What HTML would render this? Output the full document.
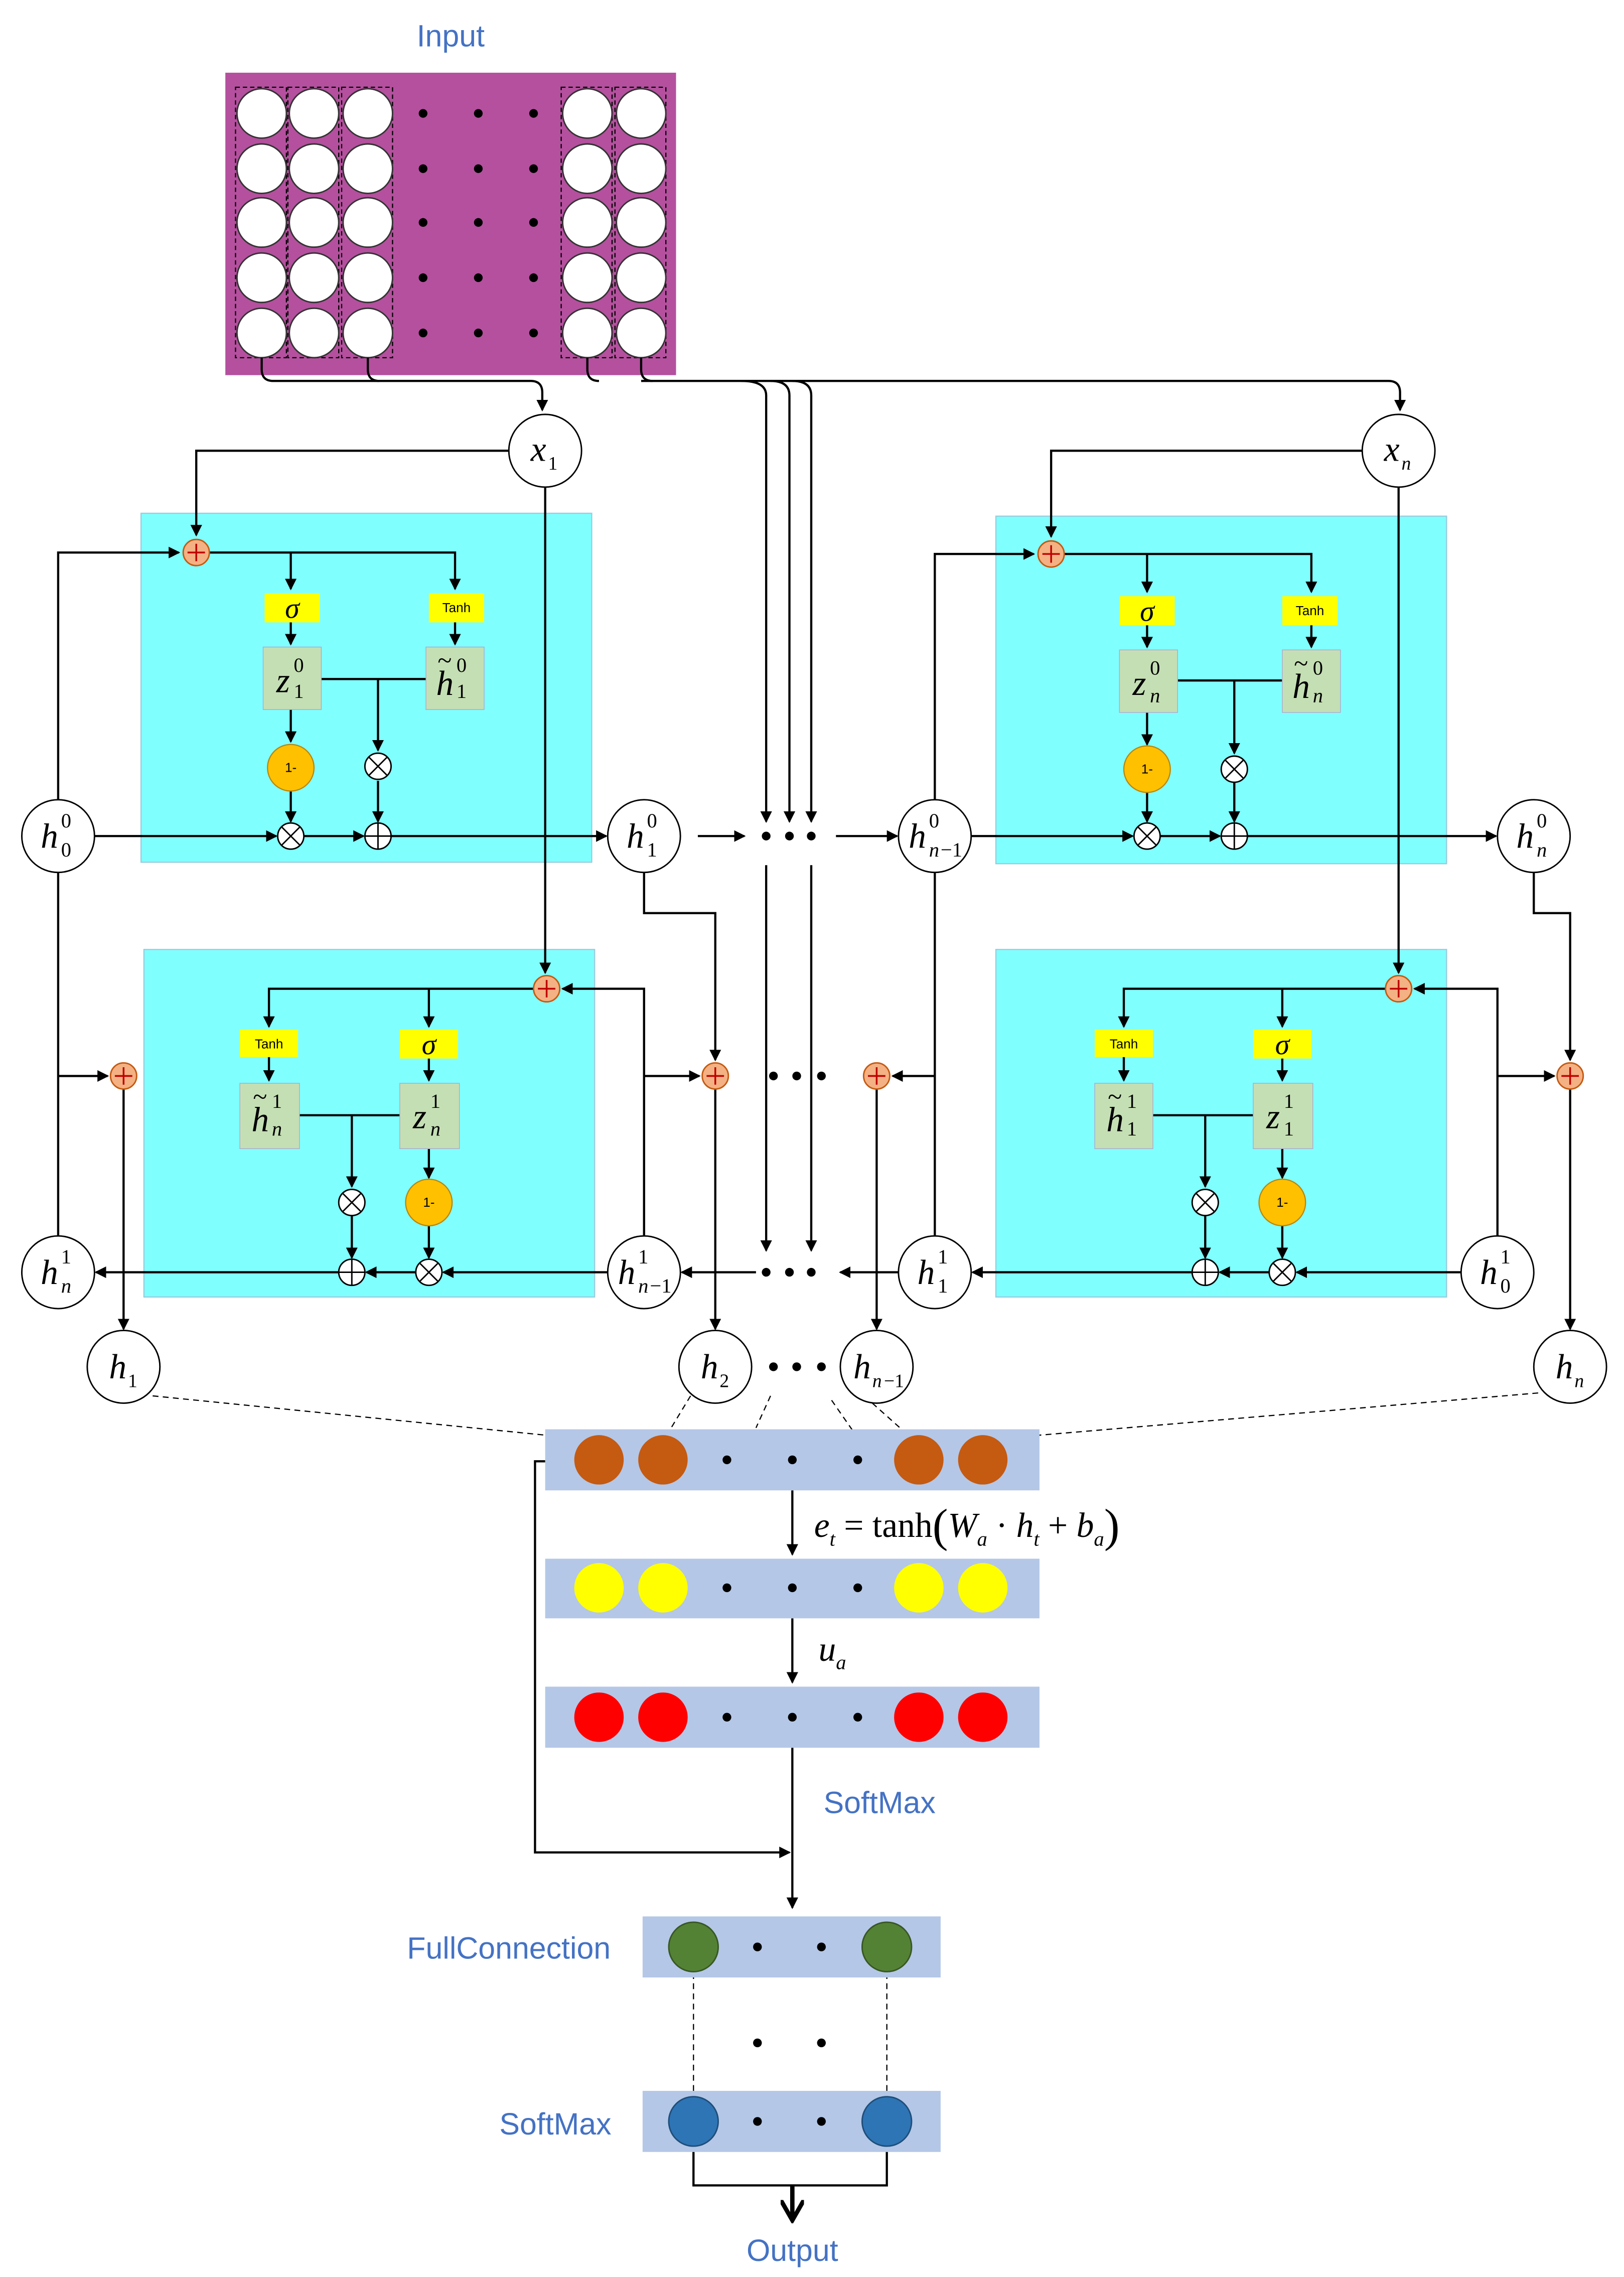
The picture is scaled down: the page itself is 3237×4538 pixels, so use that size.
<!DOCTYPE html>
<html><head><meta charset="utf-8"><style>html,body{margin:0;padding:0;background:#fff}svg{display:block}</style></head>
<body>
<svg width="3237" height="4538" viewBox="0 0 1117 1566" preserveAspectRatio="xMinYMin meet" xmlns="http://www.w3.org/2000/svg">
<defs>
<marker id="a" markerWidth="8" markerHeight="8" refX="7" refY="4" orient="auto" markerUnits="userSpaceOnUse"><path d="M0,0 L8,4 L0,8 z" fill="#000"/></marker>
<marker id="b" markerWidth="16" markerHeight="16" refX="14" refY="8" orient="auto" markerUnits="userSpaceOnUse"><path d="M0,0 L14,8 L0,16" fill="none" stroke="#000" stroke-width="3"/></marker>
</defs>
<rect width="1117" height="1566" fill="#fff"/>
<g font-family="Liberation Sans, sans-serif" fill="#4472C4" font-size="21" text-anchor="middle">
<text x="310" y="32">Input</text>
<text x="605" y="1247">SoftMax</text>
<text x="350" y="1347">FullConnection</text>
<text x="382" y="1468">SoftMax</text>
<text x="545" y="1555">Output</text>
</g>
<rect x="155" y="50" width="310" height="208" fill="#B4509E"/>
<g fill="none" stroke="#000" stroke-width="0.8" stroke-dasharray="3,2">
<rect x="162" y="60" width="35" height="186"/><rect x="198" y="60" width="35" height="186"/><rect x="235" y="60" width="35" height="186"/><rect x="386" y="60" width="35" height="186"/><rect x="423" y="60" width="35" height="186"/>
</g>
<g fill="#fff" stroke="#333" stroke-width="1">
<circle cx="180" cy="78" r="17"/><circle cx="216" cy="78" r="17"/><circle cx="253" cy="78" r="17"/><circle cx="404" cy="78" r="17"/><circle cx="441" cy="78" r="17"/>
<circle cx="180" cy="116" r="17"/><circle cx="216" cy="116" r="17"/><circle cx="253" cy="116" r="17"/><circle cx="404" cy="116" r="17"/><circle cx="441" cy="116" r="17"/>
<circle cx="180" cy="153" r="17"/><circle cx="216" cy="153" r="17"/><circle cx="253" cy="153" r="17"/><circle cx="404" cy="153" r="17"/><circle cx="441" cy="153" r="17"/>
<circle cx="180" cy="191" r="17"/><circle cx="216" cy="191" r="17"/><circle cx="253" cy="191" r="17"/><circle cx="404" cy="191" r="17"/><circle cx="441" cy="191" r="17"/>
<circle cx="180" cy="229" r="17"/><circle cx="216" cy="229" r="17"/><circle cx="253" cy="229" r="17"/><circle cx="404" cy="229" r="17"/><circle cx="441" cy="229" r="17"/>
</g>
<g fill="#000">
<circle cx="291" cy="78" r="3"/><circle cx="329" cy="78" r="3"/><circle cx="367" cy="78" r="3"/>
<circle cx="291" cy="116" r="3"/><circle cx="329" cy="116" r="3"/><circle cx="367" cy="116" r="3"/>
<circle cx="291" cy="153" r="3"/><circle cx="329" cy="153" r="3"/><circle cx="367" cy="153" r="3"/>
<circle cx="291" cy="191" r="3"/><circle cx="329" cy="191" r="3"/><circle cx="367" cy="191" r="3"/>
<circle cx="291" cy="229" r="3"/><circle cx="329" cy="229" r="3"/><circle cx="367" cy="229" r="3"/>
</g>
<g fill="#80FFFF" stroke="#9cd" stroke-width="0.8">
<rect x="97" y="353" width="310" height="240"/><rect x="99" y="653" width="310" height="239"/>
<rect x="685" y="355" width="310" height="239"/><rect x="685" y="653" width="310" height="239"/>
</g>
<g fill="none" stroke="#000" stroke-width="1.5">
<path d="M180,246 v8 q0,8 8,8 H365 q8,0 8,8 v12" marker-end="url(#a)"/>
<path d="M253,246 v8 q0,8 8,8"/><path d="M404,246 v8 q0,8 8,8"/><path d="M441,246 v8 q0,8 8,8"/>
<path d="M441,262 H955 q8,0 8,8 v12" marker-end="url(#a)"/>
<path d="M510,262 q17,0 17,10 V565" marker-end="url(#a)"/>
<path d="M530,262 q13,0 13,10 V565" marker-end="url(#a)"/>
<path d="M545,262 q13,0 13,10 V565" marker-end="url(#a)"/>
<path d="M527,595 V860" marker-end="url(#a)"/><path d="M558,595 V860" marker-end="url(#a)"/>
<path d="M350,310 H135 V368" marker-end="url(#a)"/>
<path d="M40,550 V380 H123" marker-end="url(#a)"/>
<path d="M144,380 H313 V405" marker-end="url(#a)"/>
<path d="M200,380 V405" marker-end="url(#a)"/>
<path d="M200,428 V443" marker-end="url(#a)"/><path d="M313,428 V443" marker-end="url(#a)"/>
<path d="M221,467 H293"/><path d="M260,467 V516" marker-end="url(#a)"/>
<path d="M200,488 V510" marker-end="url(#a)"/>
<path d="M200,544 V565" marker-end="url(#a)"/><path d="M260,537 V565" marker-end="url(#a)"/>
<path d="M65,575 H190" marker-end="url(#a)"/><path d="M209,575 H250" marker-end="url(#a)"/><path d="M269,575 H417" marker-end="url(#a)"/>
<path d="M375,335 V669" marker-end="url(#a)"/>
<path d="M367,680 H185 V706" marker-end="url(#a)"/><path d="M295,680 V706" marker-end="url(#a)"/>
<path d="M185,727 V743" marker-end="url(#a)"/><path d="M295,728 V743" marker-end="url(#a)"/>
<path d="M206,767 H275"/><path d="M242,767 V816" marker-end="url(#a)"/>
<path d="M295,790 V810" marker-end="url(#a)"/>
<path d="M242,836 V865" marker-end="url(#a)"/><path d="M295,843 V865" marker-end="url(#a)"/>
<path d="M418,875 H305" marker-end="url(#a)"/><path d="M286,875 H252" marker-end="url(#a)"/><path d="M233,875 H66" marker-end="url(#a)"/>
<path d="M443,850 V680 H387" marker-end="url(#a)"/>
<path d="M40,600 V850"/><path d="M40,740 H74" marker-end="url(#a)"/>
<path d="M85,749 V914" marker-end="url(#a)"/>
<path d="M443,600 V628 H492 V729" marker-end="url(#a)"/>
<path d="M443,740 H481" marker-end="url(#a)"/>
<path d="M492,749 V914" marker-end="url(#a)"/>
<path d="M480,575 H512" marker-end="url(#a)"/><path d="M575,575 H617" marker-end="url(#a)"/>
<path d="M520,875 H469" marker-end="url(#a)"/><path d="M618,875 H578" marker-end="url(#a)"/>
<path d="M643,600 V850"/><path d="M643,740 H614" marker-end="url(#a)"/>
<path d="M603,749 V914" marker-end="url(#a)"/>
<path d="M937,310 H723 V369" marker-end="url(#a)"/>
<path d="M643,550 V381 H711" marker-end="url(#a)"/>
<path d="M732,381 H902 V407" marker-end="url(#a)"/>
<path d="M789,381 V407" marker-end="url(#a)"/>
<path d="M789,430 V445" marker-end="url(#a)"/><path d="M902,430 V445" marker-end="url(#a)"/>
<path d="M810,468 H882"/><path d="M849,468 V518" marker-end="url(#a)"/>
<path d="M789,490 V512" marker-end="url(#a)"/>
<path d="M789,545 V565" marker-end="url(#a)"/><path d="M849,538 V565" marker-end="url(#a)"/>
<path d="M668,575 H779" marker-end="url(#a)"/><path d="M798,575 H839" marker-end="url(#a)"/><path d="M858,575 H1029" marker-end="url(#a)"/>
<path d="M962,335 V669" marker-end="url(#a)"/>
<path d="M953,680 H773 V706" marker-end="url(#a)"/><path d="M882,680 V706" marker-end="url(#a)"/>
<path d="M773,727 V743" marker-end="url(#a)"/><path d="M882,728 V743" marker-end="url(#a)"/>
<path d="M793,767 H862"/><path d="M829,767 V816" marker-end="url(#a)"/>
<path d="M882,790 V810" marker-end="url(#a)"/>
<path d="M829,836 V865" marker-end="url(#a)"/><path d="M882,843 V865" marker-end="url(#a)"/>
<path d="M1005,875 H892" marker-end="url(#a)"/><path d="M873,875 H839" marker-end="url(#a)"/><path d="M820,875 H669" marker-end="url(#a)"/>
<path d="M1030,850 V680 H973" marker-end="url(#a)"/>
<path d="M1030,740 H1069" marker-end="url(#a)"/>
<path d="M1055,600 V628 H1080 V729" marker-end="url(#a)"/>
<path d="M1080,749 V914" marker-end="url(#a)"/>
<path d="M545,1025 V1069" marker-end="url(#a)"/>
<path d="M545,1113 V1157" marker-end="url(#a)"/>
<path d="M545,1202 V1312" marker-end="url(#a)"/>
<path d="M375,1005 H368 V1274 H543" marker-end="url(#a)"/>
<path d="M477,1480 V1503 H610 V1480"/>
</g>
<path d="M545,1503 V1527" stroke="#000" stroke-width="3" fill="none" marker-end="url(#b)"/>
<g stroke="#000" stroke-width="0.8" stroke-dasharray="4,3" fill="none">
<path d="M105,960 L405,990"/><path d="M475,960 L458,988"/><path d="M530,960 L520,982"/><path d="M572,963 L588,986"/>
<path d="M600,965 L628,990"/><path d="M1058,958 L680,990"/>
<path d="M477,1357 V1440"/><path d="M610,1357 V1440"/>
</g>
<g fill="#F4B183" stroke="#C55A11" stroke-width="1">
<circle cx="135" cy="380" r="9"/><circle cx="376" cy="680" r="9"/><circle cx="85" cy="740" r="9"/><circle cx="492" cy="740" r="9"/>
<circle cx="603" cy="740" r="9"/><circle cx="723" cy="381" r="9"/><circle cx="962" cy="680" r="9"/><circle cx="1080" cy="740" r="9"/>
</g>
<g stroke="#C00000" stroke-width="1.2">
<path d="M129,380h12M135,374v12"/><path d="M370,680h12M376,674v12"/><path d="M79,740h12M85,734v12"/><path d="M486,740h12M492,734v12"/>
<path d="M597,740h12M603,734v12"/><path d="M717,381h12M723,375v12"/><path d="M956,680h12M962,674v12"/><path d="M1074,740h12M1080,734v12"/>
</g>
<g fill="#FFFF00">
<rect x="182" y="408" width="38" height="20"/><rect x="295" y="408" width="38" height="20"/>
<rect x="770" y="410" width="38" height="20"/><rect x="882" y="410" width="38" height="20"/>
<rect x="165" y="708" width="40" height="19"/><rect x="275" y="708" width="40" height="20"/>
<rect x="753" y="708" width="40" height="19"/><rect x="862" y="708" width="40" height="20"/>
</g>
<g font-family="Liberation Serif, serif" font-style="italic" font-size="20" text-anchor="middle" fill="#000">
<text x="201" y="425">σ</text><text x="789" y="427">σ</text><text x="295" y="725">σ</text><text x="882" y="725">σ</text>
</g>
<g font-family="Liberation Sans, sans-serif" font-size="9" text-anchor="middle" fill="#000">
<text x="314" y="421">Tanh</text><text x="901" y="423">Tanh</text><text x="185" y="721">Tanh</text><text x="773" y="721">Tanh</text>
</g>
<g fill="#C5DFB4" stroke="#aac" stroke-width="0.5">
<rect x="181" y="445" width="40" height="43"/><rect x="293" y="445" width="40" height="43"/>
<rect x="770" y="447" width="40" height="43"/><rect x="882" y="447" width="40" height="43"/>
<rect x="165" y="745" width="41" height="45"/><rect x="275" y="745" width="41" height="45"/>
<rect x="753" y="745" width="40" height="45"/><rect x="862" y="745" width="41" height="45"/>
</g>
<g fill="#FFC000" stroke="#B8860B" stroke-width="0.8">
<circle cx="200" cy="528" r="16"/><circle cx="789" cy="529" r="16"/><circle cx="295" cy="827" r="16"/><circle cx="882" cy="827" r="16"/>
</g>
<g font-family="Liberation Sans, sans-serif" font-size="9" text-anchor="middle">
<text x="200" y="531">1-</text><text x="789" y="532">1-</text><text x="295" y="830">1-</text><text x="882" y="830">1-</text>
</g>
<g fill="#fff" stroke="#000" stroke-width="1">
<circle cx="260" cy="527" r="9"/><circle cx="200" cy="575" r="9"/><circle cx="260" cy="575" r="9"/>
<circle cx="849" cy="529" r="9"/><circle cx="789" cy="575" r="9"/><circle cx="849" cy="575" r="9"/>
<circle cx="242" cy="827" r="9"/><circle cx="242" cy="875" r="9"/><circle cx="295" cy="875" r="9"/>
<circle cx="829" cy="827" r="9"/><circle cx="829" cy="875" r="9"/><circle cx="882" cy="875" r="9"/>
</g>
<g stroke="#000" stroke-width="1">
<path d="M254,521l12,12M266,521l-12,12"/><path d="M194,569l12,12M206,569l-12,12"/><path d="M251,575h18M260,566v18"/>
<path d="M843,523l12,12M855,523l-12,12"/><path d="M783,569l12,12M795,569l-12,12"/><path d="M840,575h18M849,566v18"/>
<path d="M236,821l12,12M248,821l-12,12"/><path d="M233,875h18M242,866v18"/><path d="M289,869l12,12M301,869l-12,12"/>
<path d="M823,821l12,12M835,821l-12,12"/><path d="M820,875h18M829,866v18"/><path d="M876,869l12,12M888,869l-12,12"/>
</g>
<g font-family="Liberation Serif, serif" font-size="24" fill="#000">
<text x="190" y="476" font-style="italic">z</text><text x="202" y="462" font-size="14">0</text><text x="202" y="480" font-size="14">1</text>
<text x="300" y="478" font-style="italic">h</text><text x="301" y="460" font-size="18">~</text><text x="314" y="462" font-size="14">0</text><text x="314" y="480" font-size="14">1</text>
<text x="779" y="478" font-style="italic">z</text><text x="791" y="464" font-size="14">0</text><text x="791" y="483" font-size="14" font-style="italic">n</text>
<text x="889" y="480" font-style="italic">h</text><text x="890" y="462" font-size="18">~</text><text x="903" y="464" font-size="14">0</text><text x="903" y="483" font-size="14" font-style="italic">n</text>
<text x="173" y="778" font-style="italic">h</text><text x="174" y="760" font-size="18">~</text><text x="187" y="762" font-size="14">1</text><text x="187" y="781" font-size="14" font-style="italic">n</text>
<text x="284" y="776" font-style="italic">z</text><text x="296" y="762" font-size="14">1</text><text x="296" y="781" font-size="14" font-style="italic">n</text>
<text x="761" y="778" font-style="italic">h</text><text x="762" y="760" font-size="18">~</text><text x="775" y="762" font-size="14">1</text><text x="775" y="781" font-size="14">1</text>
<text x="871" y="776" font-style="italic">z</text><text x="883" y="762" font-size="14">1</text><text x="883" y="781" font-size="14">1</text>
</g>
<g fill="#fff" stroke="#000" stroke-width="1">
<circle cx="375" cy="310" r="25"/><circle cx="962" cy="310" r="25"/>
<circle cx="40" cy="575" r="25"/><circle cx="443" cy="575" r="25"/><circle cx="643" cy="575" r="25"/><circle cx="1055" cy="575" r="25"/>
<circle cx="40" cy="875" r="25"/><circle cx="443" cy="875" r="25"/><circle cx="643" cy="875" r="25"/><circle cx="1030" cy="875" r="25"/>
<circle cx="85" cy="940" r="25"/><circle cx="492" cy="940" r="25"/><circle cx="603" cy="940" r="25"/><circle cx="1080" cy="940" r="25"/>
</g>
<g font-family="Liberation Serif, serif" font-size="24" fill="#000">
<text x="365" y="317" font-style="italic">x</text><text x="377" y="323" font-size="13">1</text>
<text x="952" y="317" font-style="italic">x</text><text x="964" y="323" font-size="13" font-style="italic">n</text>
<text x="28" y="583" font-style="italic">h</text><text x="42" y="569" font-size="14">0</text><text x="42" y="589" font-size="14">0</text>
<text x="431" y="583" font-style="italic">h</text><text x="445" y="569" font-size="14">0</text><text x="445" y="589" font-size="14">1</text>
<text x="625" y="583" font-style="italic">h</text><text x="639" y="569" font-size="14">0</text><text x="639" y="589" font-size="14" font-style="italic">n</text><text x="647" y="589" font-size="14">−1</text>
<text x="1043" y="583" font-style="italic">h</text><text x="1057" y="569" font-size="14">0</text><text x="1057" y="589" font-size="14" font-style="italic">n</text>
<text x="28" y="883" font-style="italic">h</text><text x="42" y="869" font-size="14">1</text><text x="42" y="889" font-size="14" font-style="italic">n</text>
<text x="425" y="883" font-style="italic">h</text><text x="439" y="869" font-size="14">1</text><text x="439" y="889" font-size="14" font-style="italic">n</text><text x="447" y="889" font-size="14">−1</text>
<text x="631" y="883" font-style="italic">h</text><text x="645" y="869" font-size="14">1</text><text x="645" y="889" font-size="14">1</text>
<text x="1018" y="883" font-style="italic">h</text><text x="1032" y="869" font-size="14">1</text><text x="1032" y="889" font-size="14">0</text>
<text x="75" y="948" font-style="italic">h</text><text x="88" y="954" font-size="13">1</text>
<text x="482" y="948" font-style="italic">h</text><text x="495" y="954" font-size="13">2</text>
<text x="587" y="948" font-style="italic">h</text><text x="600" y="954" font-size="13" font-style="italic">n</text><text x="608" y="954" font-size="13">−1</text>
<text x="1070" y="948" font-style="italic">h</text><text x="1083" y="954" font-size="13" font-style="italic">n</text>
</g>
<g fill="#000">
<circle cx="527" cy="575" r="3"/><circle cx="543" cy="575" r="3"/><circle cx="558" cy="575" r="3"/>
<circle cx="532" cy="740" r="3"/><circle cx="548" cy="740" r="3"/><circle cx="565" cy="740" r="3"/>
<circle cx="527" cy="875" r="3"/><circle cx="543" cy="875" r="3"/><circle cx="558" cy="875" r="3"/>
<circle cx="532" cy="940" r="3"/><circle cx="548" cy="940" r="3"/><circle cx="565" cy="940" r="3"/>
</g>
<g fill="#B4C7E7">
<rect x="375" y="983" width="340" height="42"/><rect x="375" y="1072" width="340" height="41"/><rect x="375" y="1160" width="340" height="42"/>
<rect x="442" y="1318" width="205" height="42"/><rect x="442" y="1438" width="205" height="42"/>
</g>
<g fill="#C55A11"><circle cx="412" cy="1004" r="17"/><circle cx="456" cy="1004" r="17"/><circle cx="632" cy="1004" r="17"/><circle cx="676" cy="1004" r="17"/></g>
<g fill="#FFFF00"><circle cx="412" cy="1092" r="17"/><circle cx="456" cy="1092" r="17"/><circle cx="632" cy="1092" r="17"/><circle cx="676" cy="1092" r="17"/></g>
<g fill="#FF0000"><circle cx="412" cy="1181" r="17"/><circle cx="456" cy="1181" r="17"/><circle cx="632" cy="1181" r="17"/><circle cx="676" cy="1181" r="17"/></g>
<g fill="#548235" stroke="#385723"><circle cx="477" cy="1339" r="17"/><circle cx="610" cy="1339" r="17"/></g>
<g fill="#2E75B6" stroke="#1F4E79"><circle cx="477" cy="1459" r="17"/><circle cx="610" cy="1459" r="17"/></g>
<g fill="#000">
<circle cx="500" cy="1004" r="3"/><circle cx="545" cy="1004" r="3"/><circle cx="590" cy="1004" r="3"/>
<circle cx="500" cy="1092" r="3"/><circle cx="545" cy="1092" r="3"/><circle cx="590" cy="1092" r="3"/>
<circle cx="500" cy="1181" r="3"/><circle cx="545" cy="1181" r="3"/><circle cx="590" cy="1181" r="3"/>
<circle cx="521" cy="1339" r="3"/><circle cx="565" cy="1339" r="3"/>
<circle cx="521" cy="1405" r="3"/><circle cx="565" cy="1405" r="3"/>
<circle cx="521" cy="1459" r="3"/><circle cx="565" cy="1459" r="3"/>
</g>
<g font-family="Liberation Serif, serif" font-size="24" fill="#000">
<text x="560" y="1057"><tspan font-style="italic">e</tspan><tspan font-size="14" font-style="italic" dy="6">t</tspan><tspan dy="-6"> = tanh</tspan><tspan font-size="32" dy="3">(</tspan><tspan font-style="italic" dy="-3">W</tspan><tspan font-size="14" font-style="italic" dy="6">a</tspan><tspan dy="-6"> · </tspan><tspan font-style="italic">h</tspan><tspan font-size="14" font-style="italic" dy="6">t</tspan><tspan dy="-6"> + </tspan><tspan font-style="italic">b</tspan><tspan font-size="14" font-style="italic" dy="6">a</tspan><tspan font-size="32" dy="-3">)</tspan></text>
<text x="563" y="1142" font-style="italic">u<tspan font-size="14" dy="6">a</tspan></text>
</g>
</svg>
</body></html>
